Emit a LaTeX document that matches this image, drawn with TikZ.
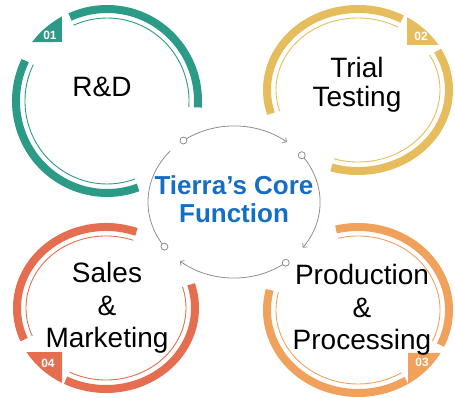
\documentclass[tikz,border=0pt]{standalone}
\usepackage{fontspec}
\setmainfont{Liberation Sans}
\usetikzlibrary{arrows.meta}

\definecolor{rdteal}{HTML}{2B9B87}
\definecolor{trialgold}{HTML}{E5BD5C}
\definecolor{prodorange}{HTML}{F0A15C}
\definecolor{salesred}{HTML}{E46E4F}
\definecolor{coreblue}{HTML}{146EC4}
\definecolor{loopgray}{HTML}{8E8E8E}

\begin{document}
\begin{tikzpicture}[
            x=1pt, y=1pt,
            band/.style={line width=8pt},
            rim/.style={line width=0.9pt},
            tabnum/.style={
                text=white,
                font=\fontsize{12}{12}\selectfont\bfseries,
                inner sep=0pt
            },
            stage/.style={
                align=center,
                inner sep=0pt,
                font=\fontsize{28}{32.5}\selectfont
            },
            loop/.style={loopgray, line width=0.8pt},
            dot/.style={
                circle,
                draw=loopgray,
                fill=white,
                line width=0.8pt,
                minimum size=7pt,
                inner sep=0pt
            }
        ]

            \useasboundingbox (0,0) rectangle (455,398);

            % the four rings: name/colour/centre/radii/two arc spans
            \foreach \name/\col/\cx/\cy/\rx/\ry/\sa/\sb/\ta/\tb in {
                rd/rdteal/107/297/95/96/154/290/-4/114,
                trial/trialgold/358/308/95/85/61/197/-107/29,
                prod/prodorange/358/88/95/87/-25/104/166/302,
                sales/salesred/106/90/93/85/70/203/243/377}
            {
                \coordinate (\name) at (\cx,\cy);
                \pgfmathsetmacro\bx{\rx-4}
                \pgfmathsetmacro\by{\ry-4}
                \pgfmathsetmacro\tx{\rx-13}
                \pgfmathsetmacro\ty{\ry-13}
                \draw[\col, band] (\name) ++(\sa:{\bx} and {\by})
                    arc[start angle=\sa, end angle=\sb, x radius=\bx, y radius=\by];
                \draw[\col, band] (\name) ++(\ta:{\bx} and {\by})
                    arc[start angle=\ta, end angle=\tb, x radius=\bx, y radius=\by];
                \draw[\col, rim] (\name) ++(\sa:{\tx} and {\ty})
                    arc[start angle=\sa, end angle=\sb, x radius=\tx, y radius=\ty];
                \draw[\col, rim] (\name) ++(\ta:{\tx} and {\ty})
                    arc[start angle=\ta, end angle=\tb, x radius=\tx, y radius=\ty];
            }

            % number tabs
            \fill[rdteal] (rd) ++(142.1:95 and 96)
                arc[start angle=142.1, end angle=118.3, x radius=95, y radius=96]
                -- (62,356) -- cycle;
            \fill[trialgold] (trial) ++(32:95 and 85)
                arc[start angle=32, end angle=58.9, x radius=95, y radius=85]
                -- (407,353) -- cycle;
            \fill[prodorange] (prod) ++(-29.6:95 and 87)
                arc[start angle=-29.6, end angle=-58.2, x radius=95, y radius=87]
                -- (408,45) -- cycle;
            \fill[salesred] (sales) ++(211.2:93 and 85)
                arc[start angle=211.2, end angle=241.8, x radius=93, y radius=85]
                -- (62,46) -- cycle;

            \node[tabnum] (n1) at (50,363) {01};
            \node[tabnum] (n2) at (421,362) {02};
            \node[tabnum] (n3) at (422,36) {03};
            \node[tabnum] (n4) at (48,35) {04};

            \node[stage] (rdlabel) at (102,311.5) {R\&D};
            \node[stage, font=\fontsize{28}{29}\selectfont]
                (triallabel) at (357,313) {Trial\\Testing};
            \node[stage] (prodlabel) at (362,88) {Production\\\&\\Processing};
            \node[stage] (saleslabel) at (107,90) {Sales\\\&\\Marketing};

            % central loop
            \coordinate (hub) at (234,196);
            \path (hub) ++(126:86 and 76) coordinate (m1);
            \path (hub) ++(38:86 and 76) coordinate (m2);
            \path (hub) ++(-53:86 and 76) coordinate (m3);
            \path (hub) ++(216:86 and 76) coordinate (m4);

            \draw[loop, -{Straight Barb[length=3pt, width=6pt]}] (m1)
                arc[start angle=126, end angle=52, x radius=86, y radius=76];
            \draw[loop, -{Straight Barb[length=3pt, width=6pt]}] (m2)
                arc[start angle=38, end angle=-37, x radius=86, y radius=76];
            \draw[loop, -{Straight Barb[length=3pt, width=6pt]}] (m3)
                arc[start angle=-53, end angle=-129, x radius=86, y radius=76];
            \draw[loop] (m4)
                arc[start angle=216, end angle=138, x radius=86, y radius=76];

            \node[dot] (d1) at (m1) {};
            \node[dot] (d2) at (m2) {};
            \node[dot] (d3) at (m3) {};
            \node[dot] (d4) at (m4) {};

            \node[
                align=center,
                inner sep=0pt,
                text=coreblue,
                font=\fontsize{26}{28.5}\selectfont\bfseries
            ] (core) at (234,199) {Tierra’s Core\\Function};

        \end{tikzpicture}
\end{document}
